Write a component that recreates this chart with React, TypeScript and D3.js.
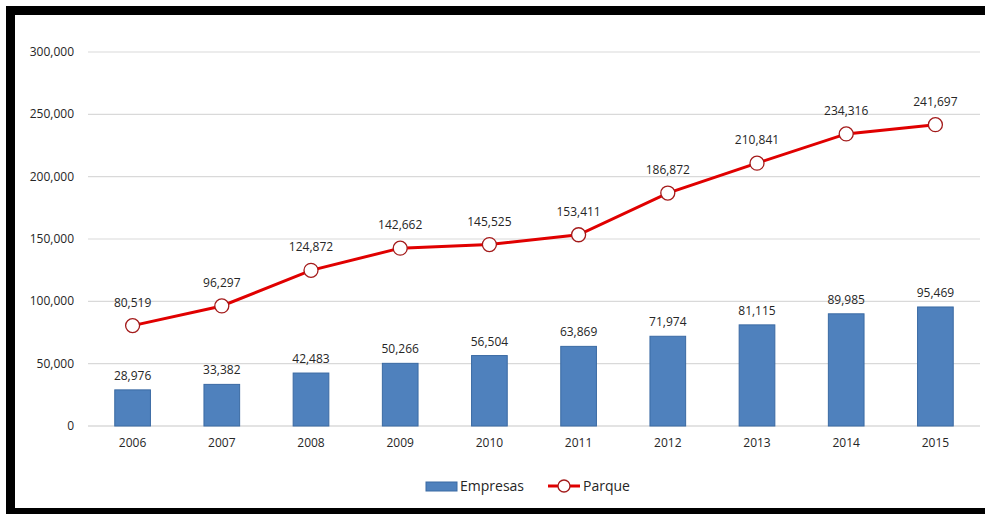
import { useEffect, useRef } from 'react'
import * as d3 from 'd3'

const years = ['2006', '2007', '2008', '2009', '2010', '2011', '2012', '2013', '2014', '2015']
const empresas = [28976, 33382, 42483, 50266, 56504, 63869, 71974, 81115, 89985, 95469]
const parque = [80519, 96297, 124872, 142662, 145525, 153411, 186872, 210841, 234316, 241697]
const yTicks = [0, 50000, 100000, 150000, 200000, 250000, 300000]

const W = 985
const H = 514
const FONT = '"Open Sans", "Noto Sans", sans-serif'
const BAR = '#4f81bd'
const RED = '#e00000'

export default function App() {
  const svgRef = useRef<SVGSVGElement>(null)

  useEffect(() => {
    const svg = d3.select(svgRef.current!)
    svg.selectAll('*').remove()

    // ── frame ──
    svg.append('rect').attr('x', 0).attr('y', 0).attr('width', W).attr('height', H).attr('fill', '#fff')
    svg.append('rect').attr('x', 6).attr('y', 6).attr('width', W - 6).attr('height', 9).attr('fill', '#000')
    svg.append('rect').attr('x', 6).attr('y', 6).attr('width', 9).attr('height', H - 6).attr('fill', '#000')
    svg.append('rect').attr('x', 6).attr('y', 508).attr('width', W - 6).attr('height', 6).attr('fill', '#000')

    const x = d3.scaleBand().domain(years).range([88, 980]).paddingInner(0.6).paddingOuter(0.3)
    const xc = (d: string) => x(d)! + x.bandwidth() / 2
    const y = d3.scaleLinear().domain([0, 300000]).range([426, 52])
    const fmt = d3.format(',')

    // ── grid ──
    svg
      .append('g')
      .selectAll('line')
      .data(yTicks)
      .join('line')
      .attr('x1', 88)
      .attr('x2', 980)
      .attr('y1', (d) => y(d))
      .attr('y2', (d) => y(d))
      .attr('stroke', (d) => (d === 0 ? '#c8c8c8' : '#d9d9d9'))
      .attr('stroke-width', 1.2)

    svg
      .append('g')
      .selectAll('text')
      .data(yTicks)
      .join('text')
      .attr('x', 74)
      .attr('y', (d) => y(d) + 4)
      .attr('text-anchor', 'end')
      .attr('font-family', FONT)
      .attr('font-size', 12)
      .attr('fill', '#262626')
      .text((d) => fmt(d))

    svg
      .append('g')
      .selectAll('text')
      .data(years)
      .join('text')
      .attr('x', (d) => xc(d))
      .attr('y', 447)
      .attr('text-anchor', 'middle')
      .attr('font-family', FONT)
      .attr('font-size', 12)
      .attr('fill', '#262626')
      .text((d) => d)

    // ── bars ──
    svg
      .append('g')
      .selectAll('rect')
      .data(empresas)
      .join('rect')
      .attr('x', (_, i) => x(years[i])!)
      .attr('y', (d) => y(d))
      .attr('width', x.bandwidth())
      .attr('height', (d) => y(0) - y(d))
      .attr('fill', BAR)
      .attr('stroke', '#3a6aa3')
      .attr('stroke-width', 1)

    svg
      .append('g')
      .selectAll('text')
      .data(empresas)
      .join('text')
      .attr('x', (_, i) => xc(years[i]))
      .attr('y', (d) => y(d) - 10)
      .attr('text-anchor', 'middle')
      .attr('font-family', FONT)
      .attr('font-size', 12)
      .attr('fill', '#262626')
      .text((d) => fmt(d))

    // ── line ──
    const line = d3
      .line<number>()
      .x((_, i) => xc(years[i]))
      .y((d) => y(d))
    svg
      .append('path')
      .datum(parque)
      .attr('d', line)
      .attr('fill', 'none')
      .attr('stroke', RED)
      .attr('stroke-width', 3)

    svg
      .append('g')
      .selectAll('circle')
      .data(parque)
      .join('circle')
      .attr('cx', (_, i) => xc(years[i]))
      .attr('cy', (d) => y(d))
      .attr('r', 7)
      .attr('fill', '#fff')
      .attr('stroke', '#a31a1a')
      .attr('stroke-width', 1.3)

    svg
      .append('g')
      .selectAll('text')
      .data(parque)
      .join('text')
      .attr('x', (_, i) => xc(years[i]))
      .attr('y', (d) => y(d) - 19)
      .attr('text-anchor', 'middle')
      .attr('font-family', FONT)
      .attr('font-size', 12)
      .attr('fill', '#262626')
      .text((d) => fmt(d))

    // ── legend ──
    const lg = svg.append('g').attr('font-family', FONT).attr('font-size', 14).attr('fill', '#262626')
    lg.append('rect').attr('x', 426).attr('y', 482).attr('width', 31).attr('height', 9).attr('fill', BAR).attr('stroke', '#3a6aa3')
    lg.append('text').attr('x', 460).attr('y', 491).text('Empresas')
    lg.append('line').attr('x1', 548).attr('x2', 580).attr('y1', 486).attr('y2', 486).attr('stroke', RED).attr('stroke-width', 3)
    lg.append('circle').attr('cx', 564).attr('cy', 486).attr('r', 6).attr('fill', '#fff').attr('stroke', '#a31a1a').attr('stroke-width', 1.3)
    lg.append('text').attr('x', 583).attr('y', 491).text('Parque')
  }, [])

  return (
    <div style={{ position: 'fixed', left: 0, top: 0 }}>
      <svg ref={svgRef} width={W} height={H} style={{ display: 'block' }} />
    </div>
  )
}
